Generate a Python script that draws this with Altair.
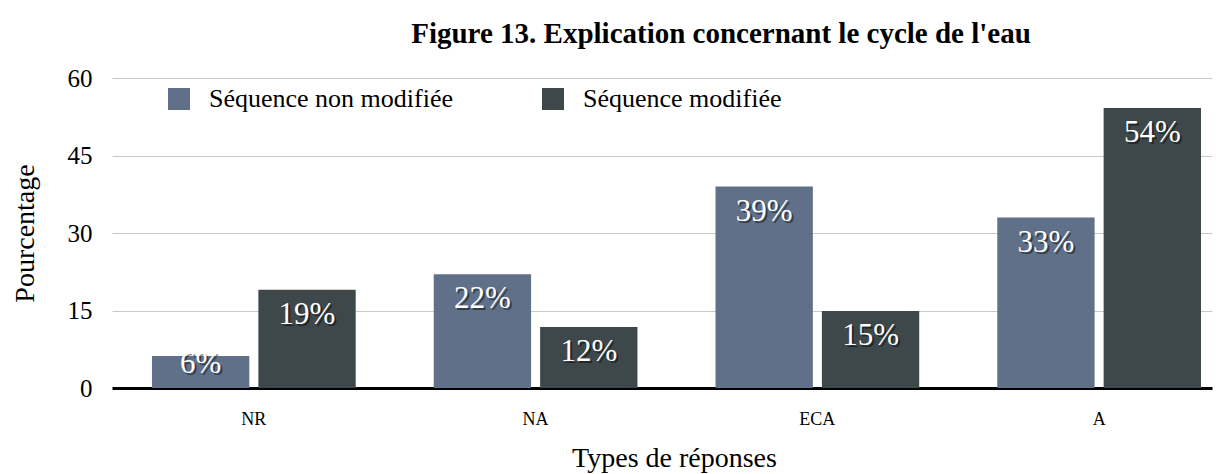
import altair as alt
import pandas as pd

categories = ["NR", "NA", "ECA", "A"]
series = ["Séquence non modifiée", "Séquence modifiée"]
non_modifiee = [6.2, 22.0, 39.0, 33.0]
modifiee = [19.0, 11.8, 14.9, 54.2]
labels_non = ["6%", "22%", "39%", "33%"]
labels_mod = ["19%", "12%", "15%", "54%"]
colors = ["#5f7088", "#3e4749"]
title_text = "Figure 13. Explication concernant le cycle de l'eau"
FONT = "Liberation Serif"

rows = []
for i, c in enumerate(categories):
    rows.append({"cat": c, "serie": series[0], "val": non_modifiee[i], "lab": labels_non[i]})
    rows.append({"cat": c, "serie": series[1], "val": modifiee[i], "lab": labels_mod[i]})
df = pd.DataFrame(rows)

x = alt.X("cat:N", sort=categories,
          scale=alt.Scale(paddingInner=0.277, paddingOuter=0.0905, align=0.784),
          axis=alt.Axis(title="Types de réponses", labelAngle=0, tickSize=0,
                        labelFont=FONT, labelFontSize=18, labelColor="black", labelPadding=22,
                        domainColor="black", domainWidth=3,
                        titleFont=FONT, titleFontSize=28, titleFontWeight="normal", titleColor="black",
                        titleX=562, titleY=70, titleBaseline="middle", titleAlign="center"))
xo = alt.XOffset("serie:N", sort=series, scale=alt.Scale(paddingInner=0.085))
y = alt.Y("val:Q", scale=alt.Scale(domain=[0, 60]),
          axis=alt.Axis(title="Pourcentage", values=[0, 15, 30, 45, 60], tickSize=0,
                        labelFont=FONT, labelFontSize=25, labelColor="black", labelPadding=20,
                        domain=False, gridColor="#c8c8c8", gridWidth=1,
                        titleFont=FONT, titleFontSize=28, titleFontWeight="normal", titleColor="black",
                        titleAngle=-90, titleX=-87, titleY=155, titleBaseline="middle", titleAlign="center"))

bars = alt.Chart(df).mark_bar().encode(
    x=x, xOffset=xo, y=y,
    color=alt.Color("serie:N", sort=series,
                    scale=alt.Scale(domain=series, range=colors),
                    legend=alt.Legend(title=None, orient="none", legendX=54, legendY=8,
                                      direction="horizontal", symbolType="square", symbolSize=484,
                                      symbolStrokeWidth=0, labelFont=FONT, labelFontSize=26,
                                      labelColor="black", labelOffset=17, labelLimit=400,
                                      columnPadding=86))
)

lab_base = alt.Chart(df).transform_calculate(ly="max(datum.val, 9.5)")
shadow = lab_base.mark_text(font=FONT, fontSize=31, color="black", opacity=0.45,
                            baseline="alphabetic", dy=36, dx=2).encode(
    x=alt.X("cat:N", sort=categories), xOffset=alt.XOffset("serie:N", sort=series),
    y=alt.Y("ly:Q"), text="lab:N")
text = lab_base.mark_text(font=FONT, fontSize=31, color="white",
                          baseline="alphabetic", dy=34).encode(
    x=alt.X("cat:N", sort=categories), xOffset=alt.XOffset("serie:N", sort=series),
    y=alt.Y("ly:Q"), text="lab:N")

title = alt.Chart(pd.DataFrame({"t": [title_text]})).mark_text(
    font=FONT, fontSize=29, fontWeight="bold", color="black",
    align="center", baseline="alphabetic").encode(
    x=alt.value(609), y=alt.value(-35), text="t:N")

chart = alt.layer(bars, shadow, text, title).properties(
    width=1100, height=310,
    autosize=alt.AutoSizeParams(type="none"),
    padding={"left": 104, "top": 70, "right": 4, "bottom": 86},
).configure_view(stroke=None)

chart.save("out.html", embed_options={"renderer": "svg", "actions": False})
